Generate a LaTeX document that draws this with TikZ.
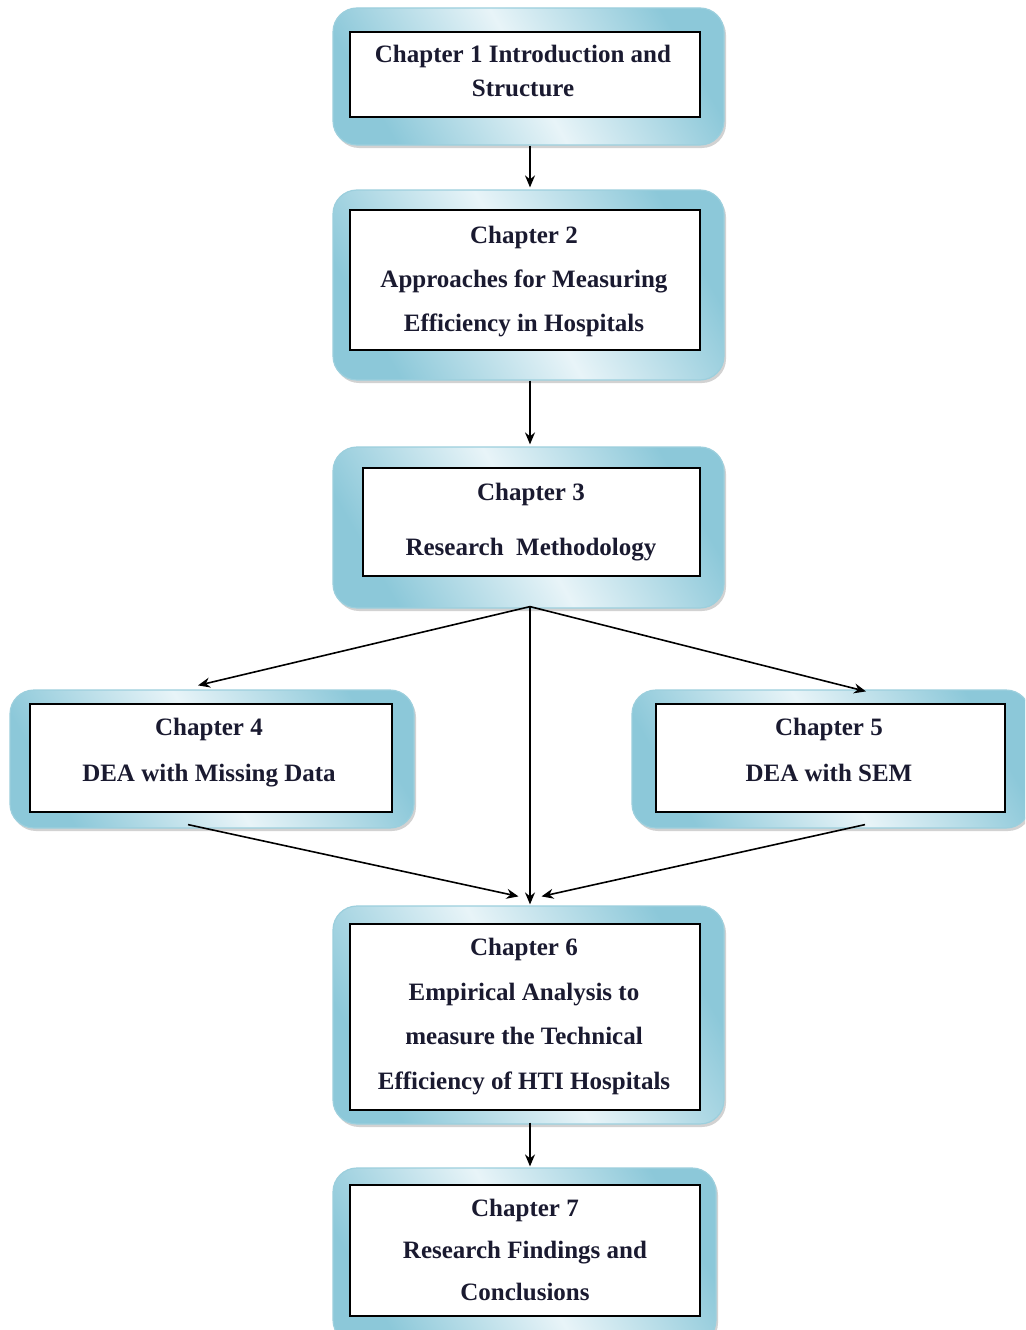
\documentclass[tikz,border=0pt]{standalone}
\usepackage{fontspec}
\setmainfont{Liberation Serif}
\usetikzlibrary{arrows.meta,shadows,calc}
\definecolor{rimblue}{HTML}{8CC8D9}
\definecolor{paleblue}{HTML}{E8F4F8}
\definecolor{edgeblue}{HTML}{9CCFDD}
\definecolor{inktext}{HTML}{1A1A30}
\tikzset{
  outerbox/.style={rounded corners=24pt, minimum width=#1, inner sep=0pt,
    left color=rimblue, right color=rimblue, middle color=paleblue,
    shading angle=-60, draw=edgeblue, line width=1.2pt,
    drop shadow={shadow xshift=2pt, shadow yshift=-3pt, opacity=0.35, fill=gray}},
  innerbox/.style={draw=black, fill=white, line width=1.8pt, inner sep=0pt},
  caption/.style={align=center, text=inktext, inner sep=0pt,
    font=\bfseries\fontsize{25}{44}\selectfont},
  arr/.style={draw=black, line width=1.6pt, -{Stealth[length=12pt,width=10pt]}}
}
\begin{document}
\begin{tikzpicture}[x=1pt,y=-1pt]
\useasboundingbox (0,0) rectangle (1025,1330);
\clip (0,0) rectangle (1025,1330);
\fill[white] (0,0) rectangle (1025,1330);

% outer shaded frames
\node[outerbox=391pt, minimum height=137pt] (o1) at (528.5,76.5) {};
\node[outerbox=391pt, minimum height=190pt] (o2) at (528.5,285) {};
\node[outerbox=391pt, minimum height=161pt] (o3) at (528.5,527.5) {};
\node[outerbox=404pt, minimum height=138pt] (o4) at (212,759) {};
\node[outerbox=398pt, minimum height=138pt] (o5) at (831,759) {};
\node[outerbox=391pt, minimum height=218pt] (o6) at (528.5,1015) {};
\node[outerbox=383pt, minimum height=176pt] (o7) at (524.5,1256) {};

% inner white boxes
\node[innerbox, minimum width=350pt, minimum height=85pt]  (c1) at (525,74.5) {};
\node[innerbox, minimum width=350pt, minimum height=140pt] (c2) at (525,280) {};
\node[innerbox, minimum width=337pt, minimum height=108pt] (c3) at (531.5,522) {};
\node[innerbox, minimum width=362pt, minimum height=108pt] (c4) at (211,758) {};
\node[innerbox, minimum width=349pt, minimum height=108pt] (c5) at (830.5,758) {};
\node[innerbox, minimum width=350pt, minimum height=186pt] (c6) at (525,1017) {};
\node[innerbox, minimum width=350pt, minimum height=131pt] (c7) at (525,1250.5) {};

% box texts
\node[caption, font=\bfseries\fontsize{25}{34}\selectfont] (t1) at (523,71)
  {Chapter 1 Introduction and\\Structure};
\node[caption] (t2) at (524,282)
  {Chapter 2\\Approaches for Measuring\\Efficiency in Hospitals};
\node[caption, font=\bfseries\fontsize{25}{55}\selectfont] (t3) at (531,522)
  {Chapter 3\\Research\ \ Methodology};
\node[caption, font=\bfseries\fontsize{25}{46}\selectfont] (t4) at (209,753)
  {Chapter 4\\DEA with Missing Data};
\node[caption, font=\bfseries\fontsize{25}{46}\selectfont] (t5) at (829,750)
  {Chapter 5\\DEA with SEM};
\node[caption, font=\bfseries\fontsize{25}{44.7}\selectfont] (t6) at (524,1016.5)
  {Chapter 6\\Empirical Analysis to\\measure the Technical\\Efficiency of HTI Hospitals};
\node[caption, font=\bfseries\fontsize{25}{42}\selectfont] (t7) at (525,1250)
  {Chapter 7\\Research Findings and\\Conclusions};

% connectors
\draw[arr] ([xshift=1.5pt]o1.south) -- ([xshift=1.5pt,yshift=2pt]o2.north);
\draw[arr] ([xshift=1.5pt]o2.south) -- ([xshift=1.5pt,yshift=2pt]o3.north);
\coordinate (hub) at ([xshift=1.5pt,yshift=2pt]o3.south);
\draw[arr] (hub) -- ([xshift=-14pt,yshift=4pt]o4.north);
\draw[arr] (hub) -- ([xshift=35pt,yshift=-2pt]o5.north);
\draw[arr] (hub) -- ([xshift=1.5pt,yshift=1pt]o6.north);
\draw[arr] ([xshift=-24pt,yshift=4pt]o4.south) -- ([xshift=-10pt,yshift=9pt]o6.north);
\draw[arr] ([xshift=34pt,yshift=4pt]o5.south) -- ([xshift=13pt,yshift=9pt]o6.north);
\draw[arr] ([xshift=1.5pt,yshift=2pt]o6.south) -- ([xshift=5.5pt,yshift=1pt]o7.north);
\end{tikzpicture}
\end{document}
